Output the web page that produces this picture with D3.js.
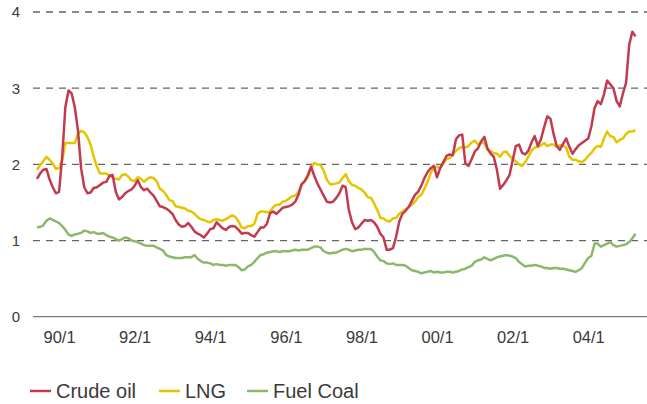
<!DOCTYPE html>
<html>
<head>
<meta charset="utf-8">
<script src="https://cdn.jsdelivr.net/npm/d3@7"></script>
<style>
  body { margin: 0; background: #fff; }
  text { font-family: "Liberation Sans", Arial, sans-serif; fill: #3a3a3a; }
</style>
</head>
<body>
<script>
// monthly index, 0 = 1989/6
var tickLabels = ["90/1","92/1","94/1","96/1","98/1","00/1","02/1","04/1"];
var tickIdx = [7, 31, 55, 79, 103, 127, 151, 175];
var yTicks = [0, 1, 2, 3, 4];

var crude = [
  1.81,1.88,1.93,1.94,1.80,1.70,1.62,1.64,2.10,2.75,
  2.97,2.93,2.75,2.45,1.95,1.70,1.62,1.63,1.69,1.70,
  1.73,1.76,1.77,1.85,1.86,1.64,1.54,1.57,1.62,1.65,
  1.67,1.72,1.79,1.70,1.66,1.68,1.63,1.59,1.52,1.45,
  1.44,1.42,1.39,1.35,1.27,1.21,1.18,1.19,1.23,1.18,
  1.12,1.09,1.07,1.04,1.09,1.15,1.16,1.24,1.20,1.16,
  1.14,1.18,1.19,1.18,1.14,1.09,1.10,1.10,1.07,1.05,
  1.11,1.17,1.17,1.22,1.36,1.38,1.35,1.39,1.43,1.44,
  1.45,1.47,1.51,1.60,1.74,1.78,1.86,1.97,1.85,1.75,
  1.67,1.59,1.51,1.50,1.51,1.56,1.62,1.72,1.70,1.40,
  1.24,1.15,1.17,1.22,1.27,1.26,1.27,1.24,1.18,1.09,
  1.04,0.88,0.88,0.90,1.05,1.25,1.35,1.39,1.44,1.52,
  1.60,1.64,1.72,1.82,1.90,1.95,1.98,1.83,1.95,2.03,
  2.11,2.13,2.12,2.33,2.38,2.39,2.01,1.98,2.07,2.17,
  2.21,2.30,2.36,2.21,2.14,2.10,1.93,1.68,1.73,1.79,
  1.86,2.05,2.24,2.26,2.15,2.13,2.18,2.29,2.37,2.24,
  2.33,2.49,2.63,2.60,2.40,2.24,2.19,2.27,2.34,2.23,
  2.14,2.20,2.25,2.28,2.31,2.34,2.50,2.74,2.83,2.79,
  2.92,3.10,3.05,3.00,2.83,2.76,2.93,3.07,3.57,3.74,3.68
];

var lng = [
  1.93,1.99,2.04,2.10,2.06,2.01,1.94,1.95,2.05,2.28,
  2.28,2.28,2.28,2.40,2.44,2.42,2.36,2.26,2.10,1.97,
  1.88,1.88,1.88,1.85,1.83,1.81,1.80,1.86,1.87,1.84,
  1.79,1.78,1.83,1.81,1.77,1.81,1.83,1.82,1.78,1.68,
  1.65,1.60,1.53,1.52,1.45,1.44,1.43,1.42,1.39,1.38,
  1.35,1.31,1.28,1.27,1.25,1.24,1.27,1.28,1.27,1.26,
  1.28,1.31,1.33,1.31,1.25,1.17,1.16,1.19,1.19,1.22,
  1.35,1.38,1.38,1.37,1.38,1.44,1.47,1.47,1.51,1.52,
  1.55,1.58,1.59,1.64,1.73,1.78,1.83,1.95,2.02,2.00,
  1.99,1.92,1.80,1.74,1.74,1.75,1.76,1.82,1.87,1.78,
  1.73,1.72,1.69,1.67,1.63,1.57,1.56,1.49,1.40,1.30,
  1.29,1.26,1.25,1.29,1.30,1.35,1.38,1.41,1.44,1.47,
  1.51,1.57,1.60,1.68,1.77,1.89,1.95,1.97,1.95,2.01,
  2.07,2.08,2.13,2.18,2.21,2.23,2.22,2.24,2.29,2.31,
  2.26,2.29,2.28,2.19,2.17,2.15,2.14,2.10,2.16,2.17,
  2.11,2.07,2.04,2.00,1.98,2.03,2.10,2.18,2.22,2.23,
  2.25,2.28,2.24,2.26,2.26,2.23,2.25,2.25,2.22,2.10,
  2.06,2.06,2.04,2.03,2.06,2.11,2.15,2.21,2.24,2.23,
  2.34,2.43,2.37,2.36,2.29,2.32,2.34,2.40,2.43,2.43,2.45
];

var coal = [
  1.17,1.18,1.20,1.26,1.29,1.27,1.25,1.23,1.19,1.14,
  1.08,1.06,1.08,1.09,1.10,1.13,1.12,1.10,1.11,1.09,
  1.09,1.10,1.07,1.05,1.04,1.02,1.00,1.02,1.04,1.03,
  1.00,0.99,0.98,0.96,0.94,0.93,0.93,0.93,0.91,0.89,
  0.87,0.81,0.79,0.78,0.77,0.77,0.77,0.78,0.78,0.78,
  0.81,0.76,0.73,0.71,0.71,0.70,0.68,0.69,0.68,0.68,
  0.67,0.68,0.68,0.68,0.65,0.61,0.62,0.66,0.68,0.72,
  0.77,0.81,0.82,0.84,0.85,0.86,0.86,0.85,0.86,0.86,
  0.86,0.87,0.88,0.87,0.88,0.88,0.88,0.90,0.92,0.92,
  0.91,0.86,0.84,0.83,0.84,0.84,0.86,0.88,0.89,0.88,
  0.86,0.87,0.88,0.88,0.89,0.89,0.89,0.85,0.79,0.74,
  0.73,0.70,0.69,0.70,0.68,0.68,0.68,0.67,0.64,0.61,
  0.60,0.59,0.57,0.58,0.59,0.60,0.58,0.59,0.58,0.58,
  0.59,0.59,0.58,0.59,0.60,0.62,0.63,0.65,0.67,0.72,
  0.74,0.75,0.78,0.76,0.74,0.76,0.78,0.79,0.80,0.81,
  0.80,0.79,0.77,0.72,0.69,0.66,0.67,0.67,0.68,0.67,
  0.66,0.64,0.64,0.63,0.64,0.64,0.63,0.63,0.62,0.61,
  0.60,0.59,0.61,0.64,0.71,0.77,0.80,0.96,0.96,0.92,
  0.94,0.96,0.98,0.94,0.92,0.93,0.94,0.95,0.98,1.03,1.09
];

var seriesNames = ["Crude oil", "LNG", "Fuel Coal"];
var seriesColors = ["#c23a4f", "#e6c500", "#8db86c"];

var w = 647, h = 404;
var svg = d3.select("body").append("svg")
  .attr("width", w)
  .attr("height", h);

var x = d3.scaleLinear().domain([0, crude.length - 1]).range([37, 635.5]);
var y = d3.scaleLinear().domain([0, 4]).range([316.7, 12]);

// gridlines
svg.selectAll("line.grid")
  .data(yTicks.filter(function(d){ return d > 0; }))
  .enter().append("line")
  .attr("class", "grid")
  .attr("x1", 33).attr("x2", w)
  .attr("y1", function(d){ return y(d); })
  .attr("y2", function(d){ return y(d); })
  .attr("stroke", "#666")
  .attr("stroke-width", 1.3)
  .attr("stroke-dasharray", "7,6");

// base line
svg.append("line")
  .attr("x1", 33).attr("x2", w)
  .attr("y1", y(0)).attr("y2", y(0))
  .attr("stroke", "#777")
  .attr("stroke-width", 1.3);

// y labels
svg.selectAll("text.ylab")
  .data(yTicks)
  .enter().append("text")
  .attr("class", "ylab")
  .attr("x", 20)
  .attr("y", function(d){ return y(d); })
  .attr("dy", "0.36em")
  .attr("text-anchor", "end")
  .style("font-size", "15px")
  .text(function(d){ return d; });

// x axis labels
var xAxis = d3.axisBottom(x)
  .tickValues(tickIdx)
  .tickSize(0)
  .tickPadding(0)
  .tickFormat(function(d, i){ return tickLabels[i]; });

var gx = svg.append("g")
  .attr("transform", "translate(0,331)")
  .call(xAxis);
gx.select(".domain").remove();
gx.selectAll("text")
  .attr("dy", "0.71em")
  .style("font-size", "16.5px")
  .style("font-family", "Liberation Sans, Arial, sans-serif")
  .attr("fill", "#3a3a3a");

var line = d3.line()
  .x(function(d, i){ return x(i); })
  .y(function(d){ return y(d); });

var drawOrder = [coal, lng, crude];
var drawColors = [seriesColors[2], seriesColors[1], seriesColors[0]];
svg.selectAll("path.series")
  .data(drawOrder)
  .enter().append("path")
  .attr("class", "series")
  .attr("d", line)
  .attr("fill", "none")
  .attr("stroke", function(d, i){ return drawColors[i]; })
  .attr("stroke-width", 2.5)
  .attr("stroke-linejoin", "round");

// legend
var legendX = [30, 159, 247];
var leg = svg.selectAll("g.legend")
  .data(seriesNames)
  .enter().append("g")
  .attr("class", "legend")
  .attr("transform", function(d, i){ return "translate(" + legendX[i] + ",391)"; });
leg.append("line")
  .attr("x1", 0).attr("x2", 21)
  .attr("y1", 0).attr("y2", 0)
  .attr("stroke", function(d, i){ return seriesColors[i]; })
  .attr("stroke-width", 2.5);
leg.append("text")
  .attr("x", 26)
  .attr("y", 0)
  .attr("dy", "0.36em")
  .style("font-size", "20px")
  .text(function(d){ return d; });
</script>
</body>
</html>
